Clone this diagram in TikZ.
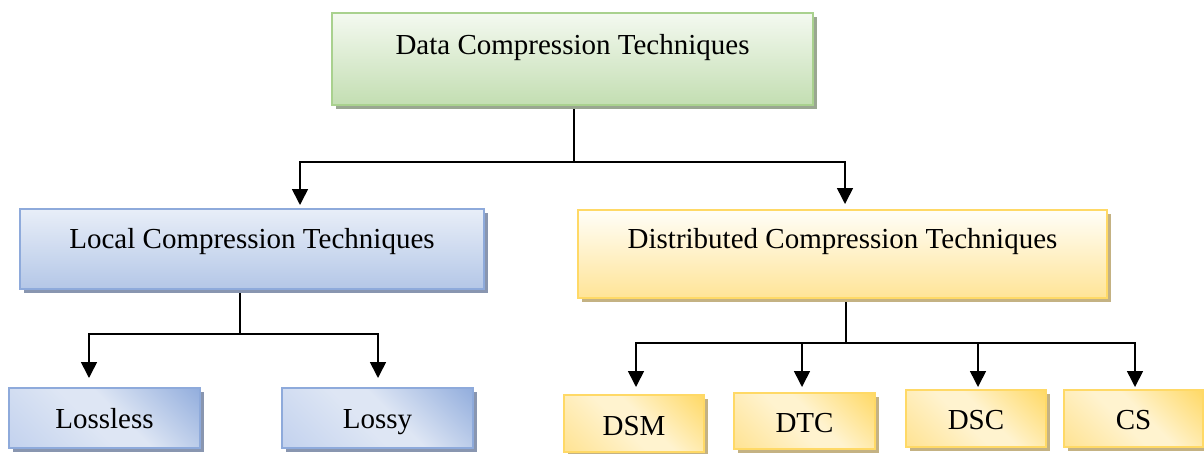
\documentclass[tikz,border=0pt]{standalone}
\usepackage{fontspec}
\setmainfont{Liberation Serif}
\usetikzlibrary{arrows.meta,shadows,backgrounds}

% palette
\definecolor{grnEdge}{HTML}{A9D18E}
\definecolor{grnTop}{HTML}{F4F9F0}
\definecolor{grnBot}{HTML}{C3DEB2}
\definecolor{grnShadow}{HTML}{9AA791}
\definecolor{bluEdge}{HTML}{8EAADB}
\definecolor{bluTop}{HTML}{E8EEF8}
\definecolor{bluBot}{HTML}{B4C7E7}
\definecolor{bluShadow}{HTML}{8996B0}
\definecolor{bluDark}{HTML}{93AEDD}
\definecolor{bluLight}{HTML}{DEE6F4}
\definecolor{bluMid}{HTML}{C3D2EE}
\definecolor{ylwEdge}{HTML}{FFD966}
\definecolor{ylwTop}{HTML}{FFFEF8}
\definecolor{ylwBot}{HTML}{FFE497}
\definecolor{ylwShadow}{HTML}{C4B283}
\definecolor{ylwDark}{HTML}{FFD966}
\definecolor{ylwLight}{HTML}{FFF3CF}
\definecolor{ylwMid}{HTML}{FFE393}

% diagonal fills for the leaf boxes: dark corner top right, light band, medium corner bottom left
\pgfdeclareverticalshading{leafblue}{100bp}{color(0bp)=(bluMid); color(15bp)=(bluMid);
  color(45bp)=(bluLight); color(55bp)=(bluLight); color(85bp)=(bluDark); color(100bp)=(bluDark)}
\pgfdeclareverticalshading{leafyellow}{100bp}{color(0bp)=(ylwMid); color(15bp)=(ylwMid);
  color(45bp)=(ylwLight); color(55bp)=(ylwLight); color(85bp)=(ylwDark); color(100bp)=(ylwDark)}

\begin{document}
\begin{tikzpicture}[x=1pt, y=-1pt,
  box/.style={draw, line width=1.8pt, inner sep=0pt, align=center,
    font=\fontsize{29}{34}\selectfont},
  greenbox/.style={box, draw=grnEdge, top color=grnTop, bottom color=grnBot,
    general shadow={fill=grnShadow, shadow xshift=4pt, shadow yshift=-4pt}},
  bluebox/.style={box, draw=bluEdge, top color=bluTop, bottom color=bluBot,
    general shadow={fill=bluShadow, shadow xshift=4pt, shadow yshift=-4pt}},
  yellowbox/.style={box, draw=ylwEdge, top color=ylwTop, bottom color=ylwBot,
    general shadow={fill=ylwShadow, shadow xshift=4pt, shadow yshift=-4pt}},
  bluesmall/.style={box, draw=bluEdge, shade, shading=leafblue, shading angle=-45,
    general shadow={fill=bluShadow, shadow xshift=4pt, shadow yshift=-4pt}},
  yellowsmall/.style={box, draw=ylwEdge, shade, shading=leafyellow, shading angle=-45,
    general shadow={fill=ylwShadow, shadow xshift=4pt, shadow yshift=-4pt}},
  link/.style={line width=1.6pt, line join=miter},
  arr/.style={link, -{Triangle[width=16pt,length=16pt]}}
]
\useasboundingbox (0,0) rectangle (1204,453);

% root
\node[greenbox, minimum width=481pt, text height=41pt, text depth=51pt]
  (root) at (572.5,59) {Data Compression Techniques};

% second level
\node[bluebox, minimum width=464pt, text height=39pt, text depth=41pt]
  (local) at (252,249) {Local Compression Techniques};
\node[yellowbox, minimum width=529pt, text height=38pt, text depth=50pt]
  (dist) at (842.5,254) {Distributed Compression Techniques};

% leaves of the local branch
\node[bluesmall, minimum width=191pt, text height=40pt, text depth=20pt]
  (lossless) at (104.5,418) {Lossless};
\node[bluesmall, minimum width=191pt, text height=40pt, text depth=20pt]
  (lossy) at (377.5,418) {Lossy};

% leaves of the distributed branch
\node[yellowsmall, minimum width=140pt, text height=40pt, text depth=17pt]
  (dsm) at (634,423.5) {DSM};
\node[yellowsmall, minimum width=141pt, text height=39pt, text depth=17pt]
  (dtc) at (804.5,421) {DTC};
\node[yellowsmall, minimum width=140pt, text height=39pt, text depth=18pt]
  (dsc) at (976,418.5) {DSC};
\node[yellowsmall, minimum width=139pt, text height=39pt, text depth=18pt]
  (cs) at (1133.5,418.5) {CS};

% junction points and arrow ends
\coordinate (hubRoot) at (574,162);
\coordinate (tipLocal) at (300,205);
\coordinate (tipDist) at (845,204);
\coordinate (hubLocal) at (240,334);
\coordinate (tipLossless) at (89,378);
\coordinate (tipLossy) at (378,378);
\coordinate (hubDist) at (846,343);
\coordinate (tipDsm) at (636,387);
\coordinate (tipDtc) at (802,387);
\coordinate (tipDsc) at (978,387);
\coordinate (tipCs) at (1135,387);

\begin{pgfonlayer}{background}
  \draw[link] (root.south -| hubRoot) -- (hubRoot);
  \draw[arr] (hubRoot) -| (tipLocal);
  \draw[arr] (hubRoot) -| (tipDist);

  \draw[link] (local.south -| hubLocal) -- (hubLocal);
  \draw[arr] (hubLocal) -| (tipLossless);
  \draw[arr] (hubLocal) -| (tipLossy);

  \draw[link] (dist.south -| hubDist) -- (hubDist);
  \draw[arr] (hubDist) -| (tipDsm);
  \draw[arr] (hubDist) -| (tipDtc);
  \draw[arr] (hubDist) -| (tipDsc);
  \draw[arr] (hubDist) -| (tipCs);
\end{pgfonlayer}
\end{tikzpicture}
\end{document}
